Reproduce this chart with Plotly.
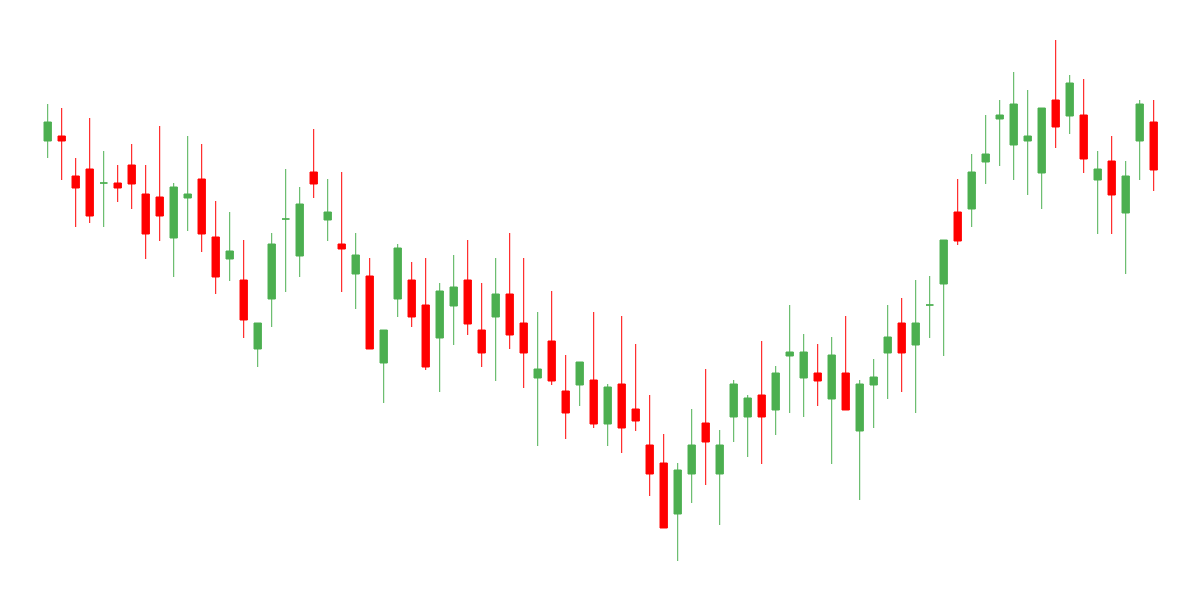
import plotly.graph_objects as go

# values (arbitrary price units, no axis shown)
opens = [459, 464, 424, 431, 417, 417, 435, 406, 403, 362,
         402, 421, 363, 341, 320, 251, 301, 381, 344, 428,
         380, 356, 326, 324, 237, 301, 320, 295, 262, 294,
         320, 270, 283, 306, 277, 222, 259, 209, 215, 220,
         176, 216, 191, 155, 137, 86, 126, 177, 126, 183,
         183, 205, 190, 244, 222, 227, 201, 227, 169, 215,
         247, 277, 255, 295, 316, 388, 391, 438, 481, 455,
         459, 427, 500, 484, 485, 420, 439, 387, 459, 478]
highs = [496, 492, 442, 482, 449, 435, 456, 435, 474, 417,
         464, 456, 399, 388, 360, 277, 367, 431, 413, 471,
         421, 428, 367, 342, 270, 356, 338, 342, 317, 345,
         360, 317, 342, 367, 342, 288, 309, 245, 238, 288,
         216, 284, 256, 205, 166, 137, 191, 231, 170, 220,
         205, 259, 234, 295, 266, 256, 263, 284, 220, 241,
         295, 302, 320, 324, 360, 421, 446, 485, 500, 528,
         510, 492, 560, 525, 521, 449, 464, 439, 500, 500]
lows = [442, 420, 373, 377, 373, 398, 391, 341, 359, 323,
        369, 348, 306, 319, 262, 233, 273, 308, 323, 402,
        359, 308, 291, 251, 197, 283, 273, 230, 208, 255,
        265, 233, 219, 251, 212, 154, 215, 161, 194, 172,
        154, 147, 169, 104, 72, 39, 97, 115, 75, 158,
        143, 136, 165, 187, 183, 194, 136, 190, 100, 172,
        201, 208, 187, 262, 244, 355, 373, 416, 434, 420,
        405, 391, 452, 466, 427, 366, 366, 326, 420, 409]
closes = [478, 459, 412, 384, 417, 412, 416, 366, 384, 413,
          406, 366, 323, 349, 280, 277, 356, 381, 396, 416,
          388, 351, 345, 251, 270, 352, 283, 233, 309, 313,
          276, 247, 306, 265, 247, 231, 219, 187, 238, 176,
          213, 172, 179, 126, 72, 130, 155, 158, 155, 216,
          202, 183, 227, 248, 248, 219, 245, 190, 216, 223,
          263, 247, 277, 295, 360, 359, 428, 446, 485, 496,
          464, 492, 473, 517, 441, 431, 405, 424, 496, 430]
periods = list(range(len(opens)))

fig = go.Figure(go.Candlestick(
    x=periods,
    open=opens,
    high=highs,
    low=lows,
    close=closes,
    increasing=dict(line=dict(color='#4CAF50', width=1), fillcolor='#4CAF50'),
    decreasing=dict(line=dict(color='#FF0000', width=1), fillcolor='#FF0000'),
    showlegend=False
))

# page body adds an 8px offset, so the ranges are shifted to compensate
fig.update_layout(
    width=1200,
    height=600,
    paper_bgcolor='white',
    plot_bgcolor='white',
    boxgap=0.25,
    margin=dict(l=0, r=0, t=0, b=0),
    xaxis=dict(visible=False, range=[-2.836, 82.879], rangeslider=dict(visible=False)),
    yaxis=dict(visible=False, range=[-8, 592])
)

fig.write_html("out.html")
